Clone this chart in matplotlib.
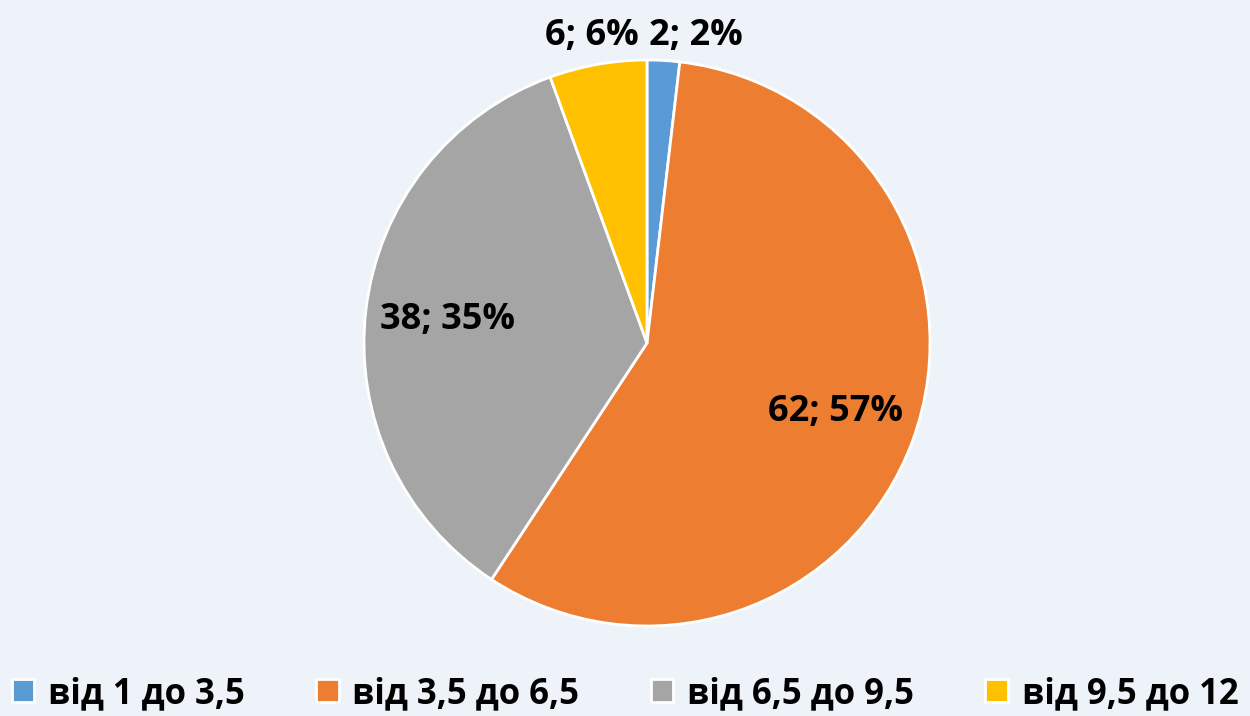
import numpy as np
import matplotlib
matplotlib.use('Agg')
import matplotlib.pyplot as plt

categories = ['від 1 до 3,5', 'від 3,5 до 6,5', 'від 6,5 до 9,5', 'від 9,5 до 12']
values = [2, 62, 38, 6]
colors = ['#5B9BD5', '#ED7D31', '#A5A5A5', '#FFC000']

plt.rcParams['font.family'] = ['Open Sans', 'DejaVu Sans']

W, H = 1250, 716
fig = plt.figure(figsize=(W / 100, H / 100), dpi=100)
fig.patch.set_facecolor('#EEF3F9')
ax = fig.add_axes([0, 0, 1, 1])
ax.set_facecolor('#EEF3F9')

cx, cy, R = 647, H - 343, 283
wedges, _ = ax.pie(values, colors=colors, startangle=90, counterclock=False,
                   center=(cx, cy), radius=R,
                   wedgeprops=dict(edgecolor='white', linewidth=2))
ax.set_xlim(0, W)
ax.set_ylim(0, H)
ax.set_aspect('equal')
ax.axis('off')

total = sum(values)
for w, v in zip(wedges, values):
    pct = round(100 * v / total)
    txt = f'{v}; {pct}%'
    if pct >= 10:
        mid = np.deg2rad((w.theta1 + w.theta2) / 2)
        x = cx + 0.71 * R * np.cos(mid)
        y = cy + 0.71 * R * np.sin(mid)
        ax.text(x, y, txt, ha='center', va='center', fontsize=26,
                fontweight='bold', color='black')
    else:
        mid = (w.theta1 + w.theta2) / 2
        right = np.cos(np.deg2rad(mid)) > 0
        edge = w.theta2 if right else w.theta1
        edge = np.deg2rad(edge)
        x = cx + R * np.cos(edge) + (2 if right else -8)
        y = cy + 1.02 * R * np.sin(edge)
        ax.text(x, y, txt, ha='left' if right else 'right', va='bottom',
                fontsize=26, fontweight='bold', color='black')

ax.legend(wedges, categories, loc='center', bbox_to_anchor=(0.5, 1 - 694 / H),
          ncol=4, frameon=False, handlelength=0.65, handleheight=0.65,
          handletextpad=0.4, columnspacing=2.05, borderpad=0,
          prop=dict(size=25, weight='bold'))

fig.savefig('out.png', dpi=100, facecolor=fig.get_facecolor())
